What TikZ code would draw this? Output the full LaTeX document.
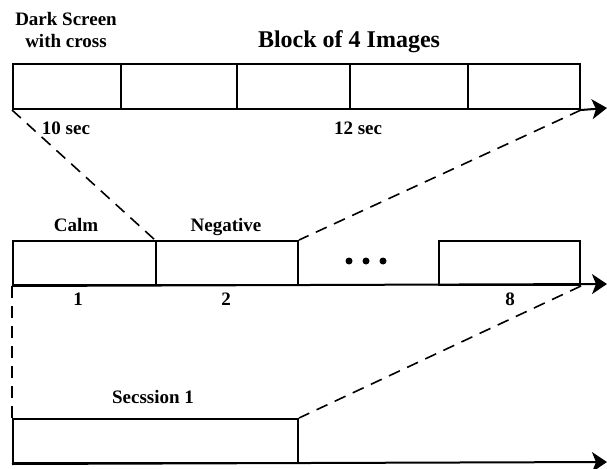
\documentclass[tikz,border=0pt]{standalone}
\usepackage{fontspec}
\setmainfont{Liberation Serif}
\usetikzlibrary{arrows.meta}
\begin{document}
\begin{tikzpicture}[x=1pt,y=-1pt,
  box/.style={draw,line width=2pt,inner sep=0pt,anchor=north west,minimum height=45pt},
  mbox/.style={box,minimum height=44pt},
  axis/.style={line width=2pt,-{Stealth[length=15pt,width=20pt,inset=4pt]}},
  link/.style={line width=1.6pt,dash pattern=on 12pt off 8pt},
  lbl/.style={font=\bfseries\fontsize{19}{22}\selectfont,inner sep=0pt,anchor=base},
  dot/.style={circle,fill,inner sep=0pt,minimum size=7pt}]
\useasboundingbox (0,0) rectangle (607,468);
% top row
\node[box,minimum width=108pt] (t1) at (12,63) {};
\node[box,minimum width=116pt] (t2) at (120,63) {};
\node[box,minimum width=113pt] (t3) at (236,63) {};
\node[box,minimum width=118pt] (t4) at (349,63) {};
\node[box,minimum width=112pt] (t5) at (467,63) {};
\coordinate (tend) at (607,108);
\draw[axis] (t5.south east) -- (tend);
% middle row
\node[mbox,minimum width=143pt] (m1) at (12,240) {};
\node[mbox,minimum width=142pt] (m2) at (155,240) {};
\node[mbox,minimum width=141pt] (m8) at (438,240) {};
\coordinate (mend) at (607,284);
\draw[axis] (m1.south west) -- (mend);
\node[dot] (d1) at (349,261) {};
\node[dot] (d2) at (366,261) {};
\node[dot] (d3) at (383,261) {};
% bottom row
\node[mbox,minimum width=285pt] (s1) at (12,418) {};
\coordinate (send) at (607,462);
\draw[axis] (s1.south west) -- (send);
% dashed links
\draw[link] (t1.south west) -- (m2.north west);
\draw[link] (t5.south east) -- (m2.north east);
\draw[link] (m1.south west) -- (s1.north west);
\draw[link] (m8.south east) -- (s1.north east);
% labels
\node[lbl,align=center] (ds) at (66,48) {Dark Screen\\with cross};
\node[lbl,font=\bfseries\fontsize{24}{28}\selectfont] (blk) at (349,48) {Block of 4 Images};
\node[lbl] (s10) at (66,134) {10 sec};
\node[lbl] (s12) at (358,134) {12 sec};
\node[lbl] (calm) at (76,231) {Calm};
\node[lbl] (neg) at (226,231) {Negative};
\node[lbl] (n1) at (78,305) {1};
\node[lbl] (n2) at (226,305) {2};
\node[lbl] (n8) at (510,305) {8};
\node[lbl] (ses) at (153,403) {Secssion 1};
\end{tikzpicture}
\end{document}
